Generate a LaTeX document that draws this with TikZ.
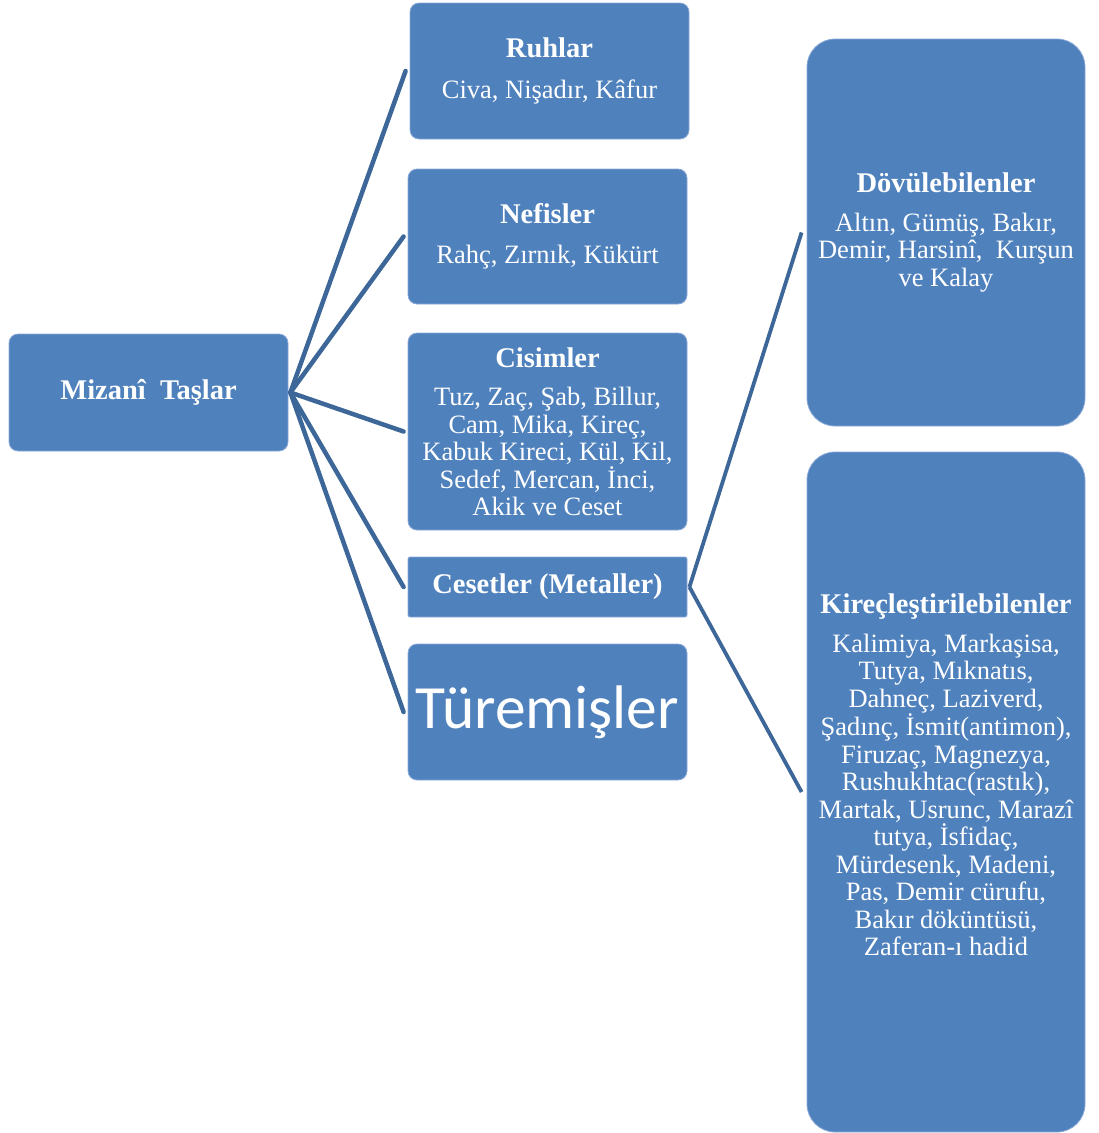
\documentclass[tikz,border=0pt]{standalone}
\usepackage{fontspec}
\setmainfont{Liberation Serif}
\newfontfamily\carlito{Carlito}
\usetikzlibrary{calc}
\definecolor{boxblue}{RGB}{79,129,189}
\definecolor{edgeblue}{RGB}{140,170,215}
\definecolor{lineblue}{RGB}{60,103,152}
\newcommand{\hd}[1]{{\fontsize{28.5}{30}\selectfont\bfseries #1}}
\tikzset{
  sbox/.style={draw=edgeblue, line width=0.8pt, fill=boxblue, rounded corners=9pt, inner sep=0pt, text=white, align=center, font=\fontsize{26.5}{27.5}\selectfont},
  bbox/.style={sbox, rounded corners=28pt},
  conn/.style={draw=lineblue, line width=4.5pt},
  txt/.style={text=white, align=center, font=\fontsize{26.5}{27.5}\selectfont}
}
\begin{document}
\begin{tikzpicture}[x=1pt,y=-1pt]
\useasboundingbox (0,0) rectangle (1099,1133);
% left root
\node[sbox, minimum width=279pt, minimum height=117pt] (miz) at (148.5,392.5) {\hd{Mizanî\ \ Taşlar}};
% middle column
\node[sbox, minimum width=279pt, minimum height=136pt] (ruh) at (549.5,71) {\hd{Ruhlar}\\[13pt]Civa, Nişadır, Kâfur};
\node[sbox, minimum width=279pt, minimum height=135pt] (nef) at (547.5,236.5) {\hd{Nefisler}\\[13pt]Rahç, Zırnık, Kükürt};
\node[sbox, minimum width=279pt, minimum height=197pt] (cis) at (547.5,431.5) {\hd{Cisimler}\\[11pt]Tuz, Zaç, Şab, Billur,\\Cam, Mika, Kireç,\\Kabuk Kireci, Kül, Kil,\\Sedef, Mercan, İnci,\\Akik ve Ceset};
\node[sbox, rounded corners=2pt, minimum width=279pt, minimum height=60pt] (ces) at (547.5,587) {\hd{Cesetler (Metaller)}};
\node[sbox, minimum width=279pt, minimum height=136pt, font=\carlito\fontsize{61.5}{66}\selectfont] (tur) at (547.5,712) {Türemişler};
% right column
\node[bbox, minimum width=278pt, minimum height=387pt] (dov) at (946,232.5) {\hd{Dövülebilenler}\\[11pt]Altın, Gümüş, Bakır,\\Demir, Harsinî,\ \ Kurşun\\ve Kalay};
\node[bbox, minimum width=278pt, minimum height=680pt] (kir) at (946,792) {};
\node[txt] (kirt) at (946,775) {\hd{Kireçleştirilebilenler}\\[11pt]Kalimiya, Markaşisa,\\Tutya, Mıknatıs,\\Dahneç, Laziverd,\\Şadınç, İsmit(antimon),\\Firuzaç, Magnezya,\\Rushukhtac(rastık),\\Martak, Usrunc, Marazî\\tutya, İsfidaç,\\Mürdesenk, Madeni,\\Pas, Demir cürufu,\\Bakır döküntüsü,\\Zaferan-ı hadid};
% connectors
\coordinate (m0) at ($(miz.east)+(2,0)$);
\foreach \n in {ruh,nef,cis,ces,tur}{
  \draw[conn, line cap=round] (m0) -- ($(\n.west)+(-4,0)$);
}
\coordinate (c0) at ($(ces.east)+(2,0)$);
\draw[conn, line width=3.8pt] (c0) -- ($(dov.west)+(-5,0)$);
\draw[conn, line width=3.8pt] (c0) -- ($(kir.west)+(-5,0)$);
\end{tikzpicture}
\end{document}
